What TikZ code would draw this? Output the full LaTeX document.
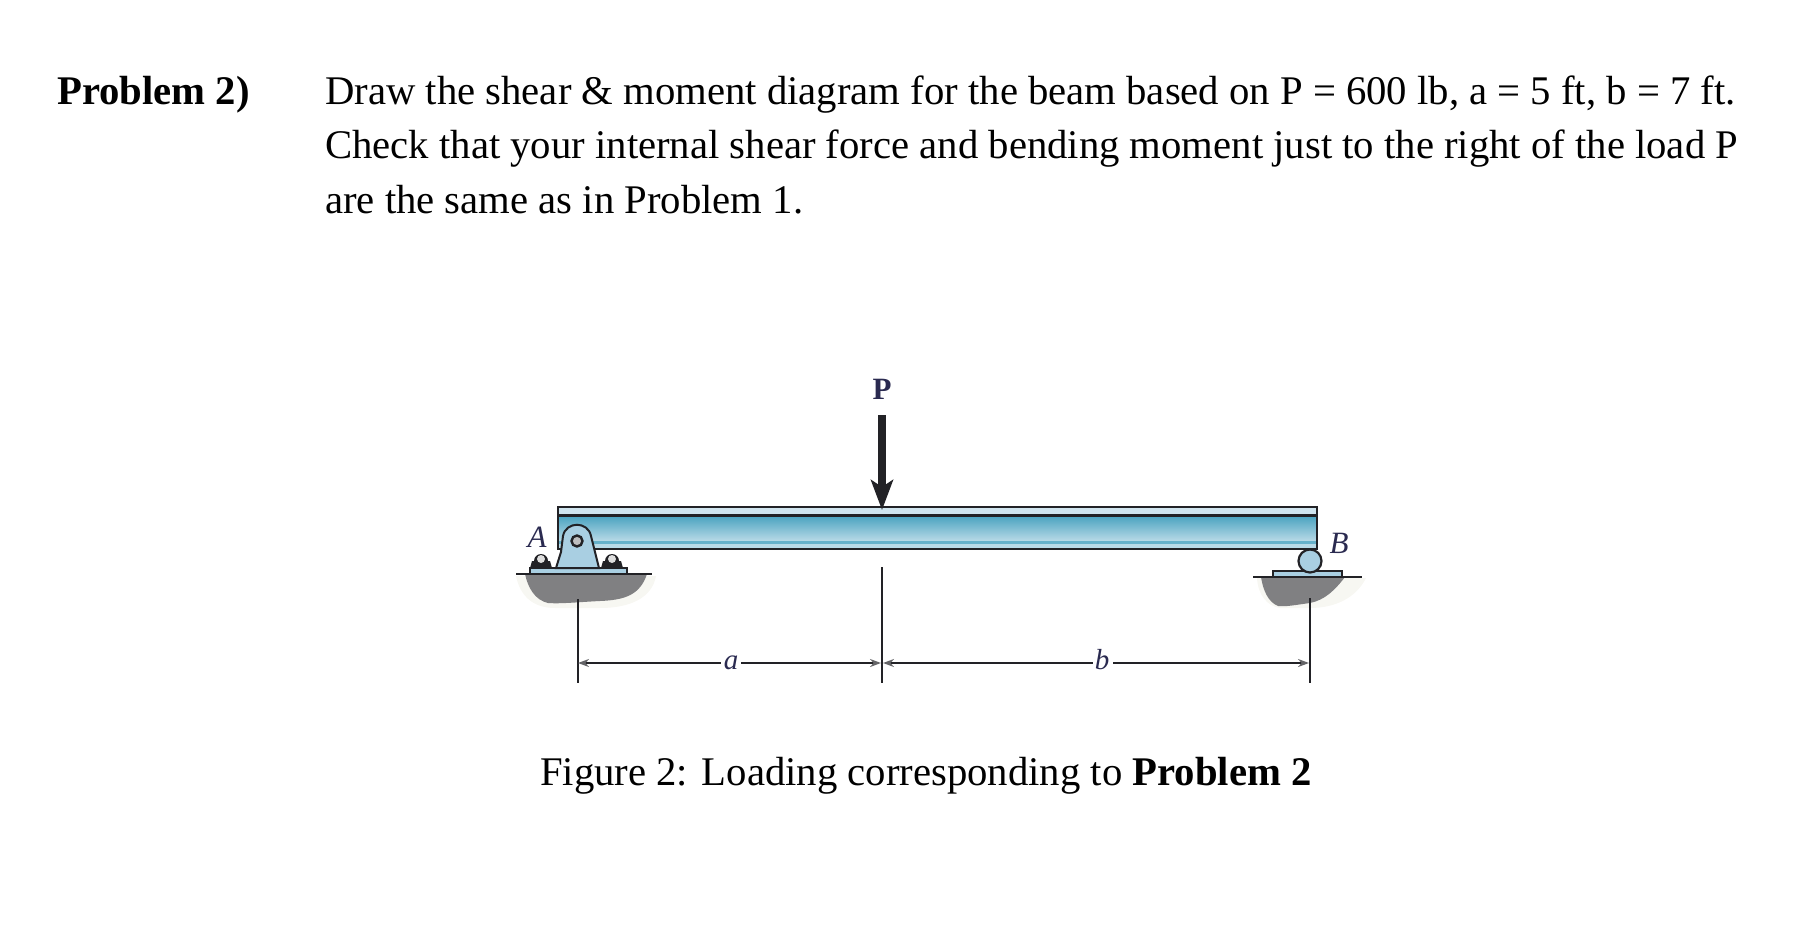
\documentclass[tikz,border=0pt]{standalone}
\usepackage{fontspec}
\setmainfont{Liberation Serif}
\usetikzlibrary{arrows.meta}
\definecolor{ink}{HTML}{222226}
\definecolor{beamtop}{HTML}{CFE4EE}
\definecolor{beamdark}{HTML}{4AA3C0}
\definecolor{beamlight}{HTML}{B9DAE7}
\definecolor{partblue}{HTML}{A9CFE2}
\definecolor{groundgray}{HTML}{808082}
\definecolor{halo}{HTML}{F4F3EC}
\definecolor{labelink}{HTML}{2A2A50}
\tikzset{
  x=1pt,y=-1pt,
  bodytext/.style={anchor=base west,inner sep=0pt,font=\fontsize{40.7}{40.7}\selectfont,text=black},
  figlabel/.style={inner sep=0pt,font=\fontsize{31}{31}\selectfont\itshape,text=labelink},
  outline/.style={draw=ink,line width=2.4pt},
  dimline/.style={draw=ink,line width=2pt},
  dimarrow/.style={dimline,-{Stealth[length=11pt,width=8pt,color=ink!70]}},
  ext/.style={draw=ink,line width=2.2pt},
  ground/.style={fill=groundgray,draw=none},
  haloshape/.style={fill=halo,draw=none,opacity=.7},
}
\begin{document}
\begin{tikzpicture}
\useasboundingbox (0,0) rectangle (1810,925);
% text
\node[bodytext,font=\fontsize{40.7}{40.7}\selectfont\bfseries] (title) at (57,105) {Problem 2)};
\node[bodytext] (l1) at (325,105) {Draw the shear \& moment diagram for the beam based on P = 600 lb, a = 5 ft, b = 7 ft.};
\node[bodytext] (l2) at (325,159) {Check that your internal shear force and bending moment just to the right of the load P};
\node[bodytext] (l3) at (325,214) {are the same as in Problem 1.};
\node[bodytext] (cap) at (540,785) {Figure 2: Loading corresponding to \textbf{Problem 2}};
% ground halos
\path[haloshape] (516,576) -- (656,576) .. controls (652,598) and (630,608) .. (600,608) -- (555,608) .. controls (532,608) and (520,595) .. (516,576) -- cycle;
\path[haloshape] (1257,578) -- (1366,578) .. controls (1356,598) and (1335,608) .. (1310,608) -- (1280,608) .. controls (1267,606) and (1258,595) .. (1257,578) -- cycle;
% ground
\path[ground] (525,574) -- (647,574) .. controls (640,595) and (625,600) .. (600,601) .. controls (580,602) and (560,604) .. (548,603) .. controls (535,600) and (528,588) .. (525,574) -- cycle;
\path[ground] (1261,577) -- (1345,577) .. controls (1335,590) and (1325,600) .. (1310,603) .. controls (1295,605) and (1285,607) .. (1278,606) .. controls (1268,602) and (1263,590) .. (1261,577) -- cycle;
% beam
\fill[beamtop] (558,507) rectangle (1317,516);
\shade[top color=beamdark,bottom color=beamlight] (558,516) rectangle (1317,541);
\fill[beamdark!75!beamlight] (558,541) rectangle (1317,544);
\fill[beamlight] (558,544) rectangle (1317,549);
\draw[outline,line width=2.2pt] (558,515.5) -- (1317,515.5);
\draw[outline] (558,549) -- (558,507) -- (1317,507) -- (1317,549) -- cycle;
% left support
\coordinate (pinA) at (577,541);
\foreach \bx in {541,612}{
  \fill[ink] (\bx-11,568) -- (\bx-9,561) -- (\bx+9,561) -- (\bx+11,568) -- cycle;
  \fill[ink] (\bx,561) circle (7);
  \fill[white!85!ink] (\bx,559) circle (4);
}
\filldraw[draw=ink,line width=2pt,fill=partblue] (530,574) rectangle (627,568);
\filldraw[draw=ink,line width=2pt,fill=partblue] (556,568) -- (561,552) -- (563,536) .. controls (566,521) and (588,521) .. (591,536) -- (595,552) -- (599,568) -- cycle;
\fill[white!70!ink,draw=ink,line width=2.4pt] (pinA) circle (5.5);
% right support
\filldraw[draw=ink,line width=2pt,fill=partblue] (1273,577) rectangle (1342,571);
\node[circle,draw=ink,line width=2.2pt,fill=partblue,minimum size=23pt,inner sep=0pt] (roller) at (1310,561) {};
% ground lines
\draw[line width=2.4pt,draw=ink] (516,574) -- (652,574);
\draw[line width=2.4pt,draw=ink] (1253,577) -- (1362,577);
% load
\node[inner sep=0pt,font=\fontsize{31}{31}\selectfont\bfseries,text=labelink] (P) at (882,389) {P};
\coordinate (loadtop) at (882,415);
\coordinate (loadtip) at (882,510);
\draw[ink,line width=7.5pt,-{Stealth[length=30pt,width=22pt,inset=7pt]}] (loadtop) -- (loadtip);
% labels
\node[figlabel] (A) at (537,537) {A};
\node[figlabel] (B) at (1339,543) {B};
% dimensions
\coordinate (e1a) at (578,599); \coordinate (e1b) at (578,683);
\coordinate (e2a) at (882,567); \coordinate (e2b) at (882,683);
\coordinate (e3a) at (1310,598); \coordinate (e3b) at (1310,683);
\draw[ext] (e1a) -- (e1b);
\draw[ext] (e2a) -- (e2b);
\draw[ext] (e3a) -- (e3b);
\coordinate (d1) at (578,663); \coordinate (d2l) at (881,663); \coordinate (d2r) at (883,663); \coordinate (d3) at (1309,663);
\node[figlabel,font=\fontsize{29}{29}\selectfont\itshape] (a) at (731,663) {a};
\node[figlabel,font=\fontsize{29}{29}\selectfont\itshape] (b) at (1102,660) {b};
\draw[dimarrow] (a.west)++(-3,0) -- (d1);
\draw[dimarrow] (a.east)++(3,0) -- (d2l);
\draw[dimarrow] ([yshift=-3pt]b.west)++(-2,0) -- (d2r);
\draw[dimarrow] ([yshift=-3pt]b.east)++(4,0) -- (d3);
\end{tikzpicture}
\end{document}
